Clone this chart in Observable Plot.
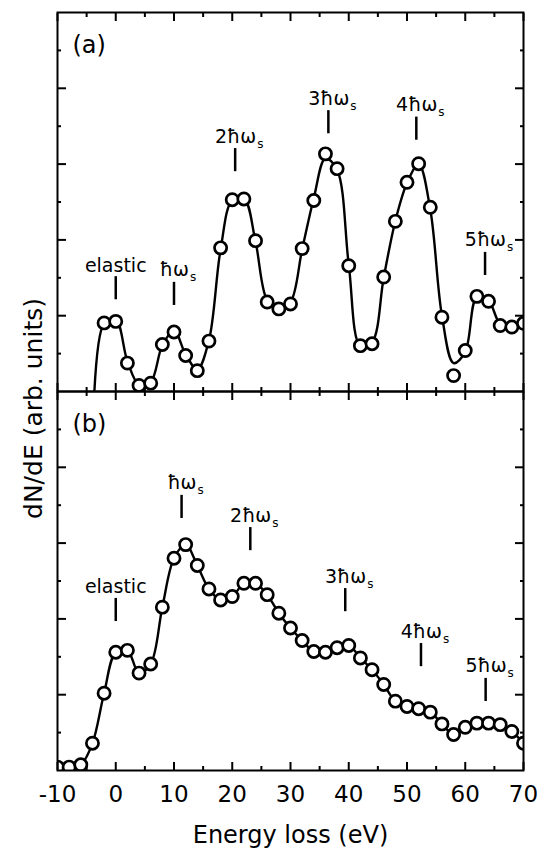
<!DOCTYPE html>
<html><head><meta charset="utf-8">
<script src="https://cdn.jsdelivr.net/npm/d3@7"></script>
<script src="https://cdn.jsdelivr.net/npm/@observablehq/plot@0.6"></script>
<style>body{margin:0;background:#fff}</style>
</head><body><div id="chart"></div>
<script>
// Panel (a): measured points
const energyA = [-2,0,2,4,6,8,10,12,14,16,18,20,22,24,26,28,30,32,34,36,38,40,42,44,46,48,50,52,54,56,58,60,62,64,66,68,70];
const valuesA = [1.81,1.85,0.75,0.16,0.22,1.24,1.57,0.95,0.55,1.33,3.79,5.06,5.08,3.98,2.36,2.18,2.31,3.77,5.04,6.27,5.88,3.32,1.21,1.26,3.02,4.49,5.52,6.01,4.86,1.96,0.42,1.08,2.51,2.38,1.74,1.70,1.80];
// Panel (a): fitted curve
const fitEnergyA = [-4,-2,0,2,4,6,8,10,12,14,16,18,20,22,24,26,28,30,32,34,36,38,40,42,44,46,48,50,52,54,56,58,60,62,64,66,68,70];
const fitValuesA = [-1.6,1.80,1.90,0.80,0.18,0.25,1.22,1.60,0.98,0.58,1.35,3.75,5.05,5.10,3.95,2.40,2.15,2.35,3.75,5.10,6.15,5.85,3.35,1.20,1.30,3.00,4.50,5.50,6.00,4.80,2.00,0.75,1.05,2.50,2.40,1.78,1.70,1.80];
// Panel (b): measured points
const energyB = [-10,-8,-6,-4,-2,0,2,4,6,8,10,12,14,16,18,20,22,24,26,28,30,32,34,36,38,40,42,44,46,48,50,52,54,56,58,60,62,64,66,68,70];
const valuesB = [0.09,0.09,0.15,0.72,2.04,3.12,3.17,2.57,2.81,4.31,5.60,5.96,5.41,4.79,4.50,4.59,4.94,4.94,4.64,4.15,3.76,3.43,3.14,3.12,3.24,3.30,2.97,2.66,2.27,1.83,1.69,1.63,1.54,1.23,0.95,1.14,1.25,1.25,1.21,1.03,0.72];

// Annotations
const annoPanel  = ["a","a","a","a","a","a","b","b","b","b","b","b"];
const annoText   = ["elastic","ħω","2ħω","3ħω","4ħω","5ħω","elastic","ħω","2ħω","3ħω","4ħω","5ħω"];
const annoEnergy = [0,10,20.5,36.5,51.6,63.4, 0,11.3,23.1,39.4,52.4,63.5];
const annoTop    = [3.03,2.88,6.41,7.41,7.24,3.67, 4.54,7.26,6.41,4.80,3.35,2.43];
const annoTickLength = 0.61;

// Ticks and labels
const xTicksMajor = [-10,0,10,20,30,40,50,60,70];
const xTicksMinor = [-5,5,15,25,35,45,55,65];
const yTicksMajor = [2,4,6,8];
const yTicksMinor = [1,3,5,7,9];
const panels = ["a","b"];
const panelLabels = ["(a)","(b)"];
const xLabel = "Energy loss (eV)";
const yLabel = "dN/dE (arb. units)";

const pts = [
  ...energyA.map((e,i) => ({E: e, v: valuesA[i], p: "a"})),
  ...energyB.map((e,i) => ({E: e, v: valuesB[i], p: "b"}))
];
const fitA = fitEnergyA.map((e,i) => ({E: e, v: fitValuesA[i], p: "a"}));
const lineB = energyB.map((e,i) => ({E: e, v: valuesB[i], p: "b"}));
const annos = annoText.map((t,i) => ({t, p: annoPanel[i], E: annoEnergy[i], top: annoTop[i], bot: annoTop[i] - annoTickLength}));
const panelText = panels.map((p,i) => ({p, t: panelLabels[i]}));

const tickCommon = {strokeWidth: 2, tickFormat: () => "", label: null, facetAnchor: null};

const svg = Plot.plot({
  width: 539,
  height: 850,
  marginLeft: 57,
  marginRight: 16,
  marginTop: 12,
  marginBottom: 80,
  style: {fontFamily: "DejaVu Sans", color: "black", background: "white"},
  x: {domain: [-10, 70], label: null},
  y: {domain: [0, 10], label: null},
  fy: {domain: panels, padding: 0, axis: null, label: null},
  marks: [
    Plot.line(fitA, {x: "E", y: "v", fy: "p", curve: "catmull-rom", stroke: "black", strokeWidth: 2.4, clip: true}),
    Plot.line(lineB, {x: "E", y: "v", fy: "p", curve: "catmull-rom", stroke: "black", strokeWidth: 2.4, clip: true}),
    Plot.dot(pts, {x: "E", y: "v", fy: "p", r: 6.1, fill: "white", stroke: "black", strokeWidth: 2.7, clip: true}),
    Plot.ruleX(annos, {x: "E", y1: "bot", y2: "top", fy: "p", stroke: "black", strokeWidth: 2.5}),
    Plot.text(annos, {filter: d => !d.t.includes("ω"), x: "E", y: "top", fy: "p", text: "t", dy: -5, lineAnchor: "bottom", fontSize: 19}),
    Plot.text(annos, {filter: d => d.t.includes("ω"), x: "E", y: "top", fy: "p", text: "t", dx: 4, dy: -6, lineAnchor: "bottom", fontSize: 19}),
    Plot.text(panelText, {fy: "p", text: "t", frameAnchor: "top-left", dx: 15, dy: 40, lineAnchor: "bottom", textAnchor: "start", fontSize: 24}),
    Plot.text([{p: "a", t: yLabel}], {fy: "p", text: "t", frameAnchor: "bottom-left", dx: -16, dy: 17, rotate: -90, lineAnchor: "bottom", textAnchor: "middle", fontSize: 25}),
    Plot.text([{p: "b", t: xLabel}], {fy: "p", text: "t", frameAnchor: "bottom", dy: 72, lineAnchor: "bottom", textAnchor: "middle", fontSize: 24}),
    Plot.axisX(xTicksMajor, {...tickCommon, anchor: "bottom", tickSize: -8}),
    Plot.axisX(xTicksMajor, {...tickCommon, anchor: "top", tickSize: -8}),
    Plot.axisX(xTicksMinor, {...tickCommon, anchor: "bottom", tickSize: -4}),
    Plot.axisX(xTicksMinor, {...tickCommon, anchor: "top", tickSize: -4}),
    Plot.axisY(yTicksMajor, {...tickCommon, anchor: "left", tickSize: -9}),
    Plot.axisY(yTicksMajor, {...tickCommon, anchor: "right", tickSize: -9}),
    Plot.axisY(yTicksMinor, {...tickCommon, anchor: "left", tickSize: -4}),
    Plot.axisY(yTicksMinor, {...tickCommon, anchor: "right", tickSize: -4}),
    Plot.axisX(xTicksMajor, {anchor: "bottom", tickSize: 0, tickPadding: 15, fontSize: 23, label: null, facetAnchor: "bottom", tickFormat: d => String(d)}),
    Plot.frame({stroke: "black", strokeWidth: 2})
  ]
});

d3.select(svg).selectAll("text")
  .filter(function() { return this.textContent.includes("ω"); })
  .append("tspan").attr("dx", 1).attr("dy", 5).attr("font-size", 12).text("s");

document.getElementById("chart").appendChild(svg);
</script>
</body></html>
